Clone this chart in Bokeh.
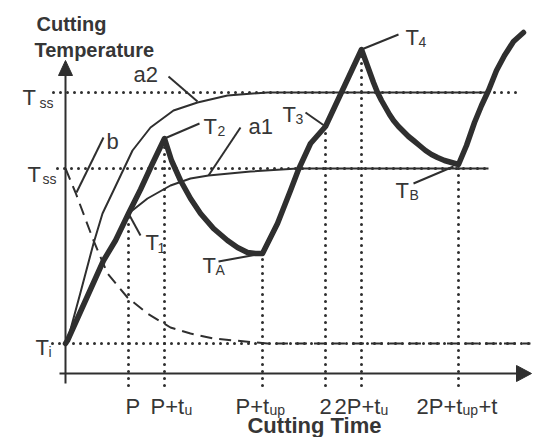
from bokeh.plotting import figure
from bokeh.models import Range1d, ColumnDataSource
from bokeh.core.properties import value
from bokeh.embed import file_html
from bokeh.resources import INLINE

# ---- data -------------------------------------------------------------
# temperature levels
T_i = 30          # initial temperature
T_ss_a1 = 205     # steady state of curve a1
T_ss_a2 = 281     # steady state of curve a2

# instants of the interrupted cutting cycles on the time axis
tick_times = [63, 99, 197, 260, 296, 393]
tick_main = ["P", "P+t", "P+t", "2", "2P+t", "2P+t"]
tick_sub = ["", "u", "up", "", "u", "up"]
tick_tail = ["", "", "", "", "", "+t"]

# temperature reached at each instant (T1, T2, TA, T3, T4, TB)
tick_temps = [160, 235, 120, 247, 324, 209]

# tool temperature through two heating / cooling cycles
cut_time = [0, 2, 20, 38, 50, 63, 75, 87, 99,
            106, 115, 125, 135, 148, 162, 172, 182, 190, 197,
            212, 225, 233, 245, 260, 296,
            300, 304, 308, 312, 316, 320, 324, 328, 333, 338, 343, 348,
            354, 360, 366, 372, 379, 386, 393,
            401, 409, 416, 423, 431, 439, 448, 458]
cut_temp = [30, 33, 73, 113, 133, 160, 184, 210, 235,
            213, 193, 175, 160, 145, 133, 126, 121, 120, 120,
            150, 183, 204, 230, 247, 324,
            313, 302, 291, 281, 273, 266, 259, 253, 247, 242, 237, 233,
            228, 223, 219, 216, 213, 211, 209,
            228, 251, 268, 283, 303, 318, 332, 341]

# continuous heating curves a1 and a2
a1_time = [0, 2, 20, 38, 50, 63, 82, 105, 125, 143, 185, 232, 423]
a1_temp = [30, 33, 73, 113, 133, 160, 175, 188, 195, 198, 202, 205, 205]
a2_time = [0, 2, 15, 28, 37, 48, 67, 85, 108, 132, 162, 202, 422]
a2_temp = [30, 33, 81, 130, 160, 183, 223, 246, 263, 271, 278, 281, 281]

# cooling curve b
b_time = [0, 10, 28, 42, 62, 82, 105, 125, 148, 202, 465]
b_temp = [205, 181, 133, 100, 76, 60, 46, 40, 35, 30, 30]

# ---- styling ----------------------------------------------------------
INK = "#2f2f2f"
TXT = "#363636"
FONT = value("Liberation Sans")
DOT = "0 7"

p = figure(width=534, height=437, output_backend="svg", toolbar_location=None,
           x_range=Range1d(-65, 469), y_range=Range1d(-64, 373),
           min_border=0, background_fill_color="white", border_fill_color="white")
p.xaxis.visible = False
p.yaxis.visible = False
p.grid.visible = False
p.outline_line_color = None

# dotted reference levels
p.segment(x0=[-12, -8, -13], y0=[T_ss_a2, T_ss_a1, T_i],
          x1=[455, 423, 469], y1=[T_ss_a2, T_ss_a1, T_i],
          line_color=INK, line_width=3, line_dash=DOT, line_cap="round")

# dotted guides from each characteristic temperature down to the time axis
p.segment(x0=tick_times, y0=[-12] * len(tick_times), x1=tick_times, y1=tick_temps,
          line_color=INK, line_width=3, line_dash=DOT, line_cap="round")

# axes with arrow heads
p.segment(x0=[0, -6], y0=[-10, 0], x1=[0, 451], y1=[298, 0], line_color=INK, line_width=2)
p.patches(xs=[[0, -7, 7], [466, 451, 451]], ys=[[313, 298, 298], [0, 8, -8]],
          fill_color=INK, line_color=INK, line_width=1)

# curves
p.line(b_time, b_temp, line_color=INK, line_width=2, line_dash="12 7")
p.line(a1_time, a1_temp, line_color=INK, line_width=2, line_join="round")
p.line(a2_time, a2_temp, line_color=INK, line_width=2, line_join="round")
p.line(cut_time, cut_temp, line_color=INK, line_width=5.5, line_join="round", line_cap="round")

# leader lines for the annotations
p.segment(x0=[103, 38, 175, 99, 63, 153, 240, 296, 348],
          y0=[297, 236, 246, 235, 160, 112, 261, 324, 190],
          x1=[132, 11, 143, 134, 75, 197, 260, 333, 388],
          y1=[272, 181, 198, 250, 138, 120, 247, 339, 207],
          line_color=INK, line_width=2)

def text(x, y, t, size, align="left", style="normal"):
    src = ColumnDataSource(dict(x=x, y=y, t=t))
    p.text("x", "y", text="t", source=src, text_font=FONT, text_font_size=size,
           text_align=align, text_baseline="alphabetic", text_color=TXT,
           text_font_style=style)

# temperature labels: T with subscripts
text([-43, -38, -30, 80, 138, 137, 217, 340, 330],
     [276, 199, 26, 131, 247, 108, 259, 336, 183], ["T"] * 9, "22px")
text([-26, -23, -17, 92, 152, 150, 230, 353, 344],
     [271, 195, 22, 126, 243, 104, 255, 332, 179],
     ["ss", "ss", "i", "1", "2", "A", "3", "4", "B"], "14px")
text([68, 183, 41], [299, 247, 232], ["a2", "a1", "b"], "22px")

# time tick labels
text([60, 85, 170, 254, 269, 351], [-33] * 6, tick_main, "22px")
text([119, 204, 315, 397], [-36] * 4, [s for s in tick_sub if s], "14px")
text([413], [-33], [s for s in tick_tail if s], "22px")

# axis titles
text([-29, -31], [350, 324], ["Cutting", "Temperature"], "20px", style="bold")
text([249], [-52], ["Cutting Time"], "22px", align="center", style="bold")

open("out.html", "w").write(file_html(p, INLINE))
